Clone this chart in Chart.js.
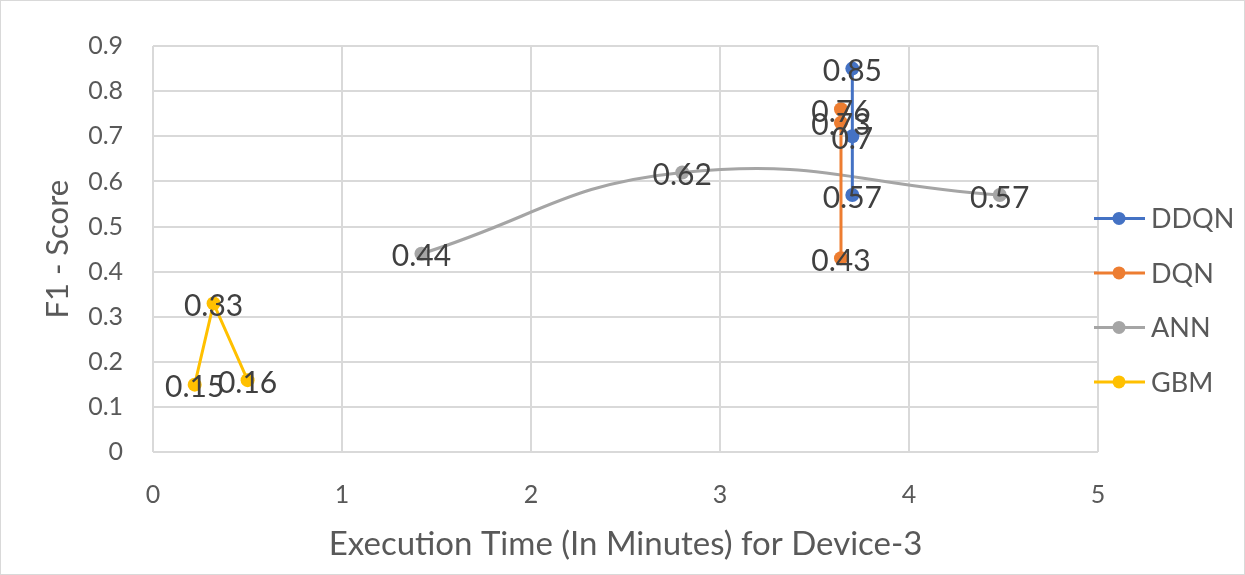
<!DOCTYPE html>
<html>
<head>
<meta charset="utf-8">
<script src="https://cdn.jsdelivr.net/npm/chart.js@4/dist/chart.umd.min.js"></script>
<style>
body{margin:0;background:#fff;}
#wrap{width:1243px;height:573px;border:1px solid #d9d9d9;}
</style>
</head>
<body>
<div id="wrap"><canvas id="chartM" width="1243" height="573"></canvas></div>
<script>
'use strict'

// datos (tiempo en minutos, F1)
let ddqnX = [3.70, 3.70, 3.70];
let ddqnY = [0.85, 0.70, 0.57];
let dqnX = [3.64, 3.64, 3.64];
let dqnY = [0.76, 0.73, 0.43];
let annX = [1.42, 2.80, 4.48];
let annY = [0.44, 0.62, 0.57];
let gbmX = [0.22, 0.32, 0.50];
let gbmY = [0.15, 0.33, 0.16];

let nombres = ['DDQN', 'DQN', 'ANN', 'GBM'];
let colores = ['#4472C4', '#ED7D31', '#A5A5A5', '#FFC000'];
let xTicks = [0, 1, 2, 3, 4, 5];
let yTicks = [0, 0.1, 0.2, 0.3, 0.4, 0.5, 0.6, 0.7, 0.8, 0.9];

let fuente = 'Lato, "Open Sans", sans-serif';
let gris = '#595959';

function pares(xs, ys){
    return xs.map((x, i) => ({x: x, y: ys[i]}));
}

let series = [pares(ddqnX, ddqnY), pares(dqnX, dqnY), pares(annX, annY), pares(gbmX, gbmY)];

// etiquetas de datos
const etiquetas = {
    id: 'etiquetas',
    afterDatasetsDraw(chart){
        const ctx = chart.ctx;
        ctx.save();
        ctx.font = '30px ' + fuente;
        ctx.fillStyle = '#404040';
        ctx.textAlign = 'center';
        ctx.textBaseline = 'middle';
        chart.data.datasets.forEach((ds, i) => {
            chart.getDatasetMeta(i).data.forEach((p, j) => {
                ctx.fillText(String(ds.data[j].y), p.x, p.y + 3);
            });
        });
        ctx.restore();
    }
};

// leyenda a la derecha
const leyenda = {
    id: 'leyenda',
    afterDraw(chart){
        const ctx = chart.ctx;
        const a = chart.chartArea;
        const x0 = a.right - 4;
        const yc = (a.top + a.bottom) / 2 + 51;
        ctx.save();
        ctx.font = '27px ' + fuente;
        ctx.textBaseline = 'middle';
        nombres.forEach((n, i) => {
            const y = yc + (i - 1.5) * 54.5;
            ctx.strokeStyle = colores[i];
            ctx.lineWidth = 3;
            ctx.beginPath();
            ctx.moveTo(x0, y);
            ctx.lineTo(x0 + 51, y);
            ctx.stroke();
            ctx.fillStyle = colores[i];
            ctx.beginPath();
            ctx.arc(x0 + 25, y, 6.5, 0, Math.PI * 2);
            ctx.fill();
            ctx.fillStyle = gris;
            ctx.fillText(n, x0 + 57, y + 1);
        });
        ctx.restore();
    }
};

const ctx = document.getElementById('chartM').getContext('2d');
const myChart = new Chart(ctx, {
    type: 'line',
    data: {
        datasets: series.map((d, i) => ({
            label: nombres[i],
            data: d,
            borderColor: colores[i],
            backgroundColor: colores[i],
            borderWidth: 3,
            pointRadius: 7,
            pointBorderWidth: 0,
            tension: nombres[i] == 'ANN' ? 0.45 : 0,
            fill: false
        }))
    },
    plugins: [etiquetas, leyenda],
    options: {
        responsive: false,
        animation: false,
        layout: {
            padding: {left: 38, right: 146, top: 24, bottom: 10}
        },
        plugins: {
            legend: {display: false},
            tooltip: {enabled: false}
        },
        scales: {
            x: {
                type: 'linear',
                min: 0,
                max: 5,
                afterBuildTicks: (s) => { s.ticks = xTicks.map(v => ({value: v})); },
                grid: {color: '#d9d9d9', lineWidth: 2, drawTicks: false},
                border: {display: false},
                ticks: {color: gris, font: {size: 25, family: fuente}, padding: 28},
                title: {display: true, text: 'Execution Time (In Minutes) for Device-3', color: gris, font: {size: 33, family: fuente}, padding: {top: -14, bottom: 0}}
            },
            y: {
                type: 'linear',
                min: 0,
                max: 0.9,
                afterBuildTicks: (s) => { s.ticks = yTicks.map(v => ({value: v})); },
                grid: {color: '#d9d9d9', lineWidth: 2, drawTicks: false},
                border: {display: false},
                ticks: {color: gris, font: {size: 25, family: fuente}, padding: 30,
                    callback: (v) => String(Math.round(v * 10) / 10)},
                title: {display: true, text: 'F1 - Score', color: gris, font: {size: 31, family: fuente}, padding: {top: 0, bottom: -18}}
            }
        }
    }
});
</script>
</body>
</html>
